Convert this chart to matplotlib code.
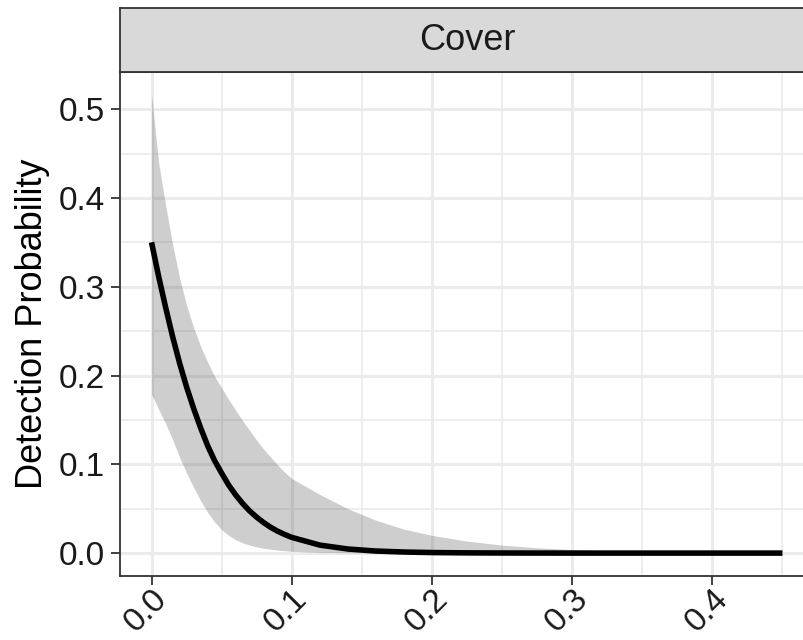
import matplotlib
matplotlib.use("Agg")
import matplotlib.pyplot as plt

plt.rcParams['font.family'] = ['Liberation Sans', 'DejaVu Sans']

# predicted detection probability vs cover, with confidence band
cover = [0.000, 0.005, 0.010, 0.015, 0.020, 0.025, 0.030, 0.035, 0.040, 0.045,
         0.050, 0.055, 0.060, 0.065, 0.070, 0.075, 0.080, 0.085, 0.090, 0.095,
         0.100, 0.120, 0.140, 0.160, 0.180, 0.200, 0.225, 0.250, 0.275, 0.300,
         0.325, 0.350, 0.400, 0.450]
p_mean = [0.350, 0.312, 0.277, 0.244, 0.214, 0.187, 0.163, 0.141, 0.121, 0.104,
          0.090, 0.0766, 0.0655, 0.0558, 0.0474, 0.0404, 0.0343, 0.0290, 0.0246, 0.0209,
          0.0177, 0.0090, 0.0046, 0.0023, 0.0012, 0.0006, 0.00025, 0.0001, 0.00005, 0.0,
          0.0, 0.0, 0.0, 0.0]
p_upper = [0.517, 0.440, 0.392, 0.348, 0.310, 0.279, 0.254, 0.233, 0.215, 0.199,
           0.186, 0.173, 0.161, 0.149, 0.138, 0.127, 0.117, 0.108, 0.099, 0.091,
           0.084, 0.066, 0.050, 0.037, 0.027, 0.020, 0.0135, 0.009, 0.006, 0.004,
           0.0025, 0.0016, 0.0006, 0.0002]
p_lower = [0.179, 0.162, 0.146, 0.128, 0.108, 0.090, 0.074, 0.059, 0.046, 0.035,
           0.0265, 0.020, 0.015, 0.0115, 0.009, 0.007, 0.0055, 0.0043, 0.0034, 0.0026,
           0.002, 0.0008, 0.0003, 0.0001, 0.0, 0.0, 0.0, 0.0, 0.0, 0.0,
           0.0, 0.0, 0.0, 0.0]
x_ticks = [0.0, 0.1, 0.2, 0.3, 0.4]
y_ticks = [0.0, 0.1, 0.2, 0.3, 0.4, 0.5]
facet = "Cover"

W, H = 804, 640
fig = plt.figure(figsize=(W / 100, H / 100), dpi=100)

# panel (right edge runs past the figure edge)
left, right, bottom, top = 120 / W, 814 / W, 64 / H, 568 / H
ax = fig.add_axes([left, bottom, right - left, top - bottom])
ax.set_xlim(-0.0225, 0.4725)
ax.set_ylim(-0.0258, 0.5418)

ax.set_xticks(x_ticks)
ax.set_yticks(y_ticks)
ax.set_xticks([0.05, 0.15, 0.25, 0.35, 0.45], minor=True)
ax.set_yticks([0.05, 0.15, 0.25, 0.35, 0.45], minor=True)
ax.grid(which='major', color='#EBEBEB', linewidth=2.2, zorder=0)
ax.grid(which='minor', color='#EBEBEB', linewidth=1.2, zorder=0)
ax.set_axisbelow(True)

ax.fill_between(cover, p_lower, p_upper, color='#333333', alpha=0.24,
                linewidth=0, zorder=2)
ax.plot(cover, p_mean, color='black', linewidth=4.0, solid_capstyle='butt', zorder=3)

for s in ax.spines.values():
    s.set_color('#333333')
    s.set_linewidth(1.3)

ax.tick_params(which='major', length=6.5, width=1.3, color='#333333',
               labelcolor='#1a1a1a')
ax.tick_params(axis='y', which='major', labelsize=24, pad=4.5)
ax.tick_params(axis='x', which='major', labelsize=24, pad=-1)
ax.tick_params(which='minor', length=0)
ax.set_xticklabels([f"{v:.1f}" for v in x_ticks], rotation=45,
                   ha='right', va='top', rotation_mode='anchor')
ax.set_yticklabels([f"{v:.1f}" for v in y_ticks])
ax.set_ylabel("Detection Probability", fontsize=26, color='black', labelpad=6)

# facet strip
strip = fig.add_axes([left, top, right - left, (632 - 568) / H])
strip.set_facecolor('#D9D9D9')
strip.set_xticks([])
strip.set_yticks([])
for s in strip.spines.values():
    s.set_color('#333333')
    s.set_linewidth(1.3)
strip.text(0.5, 0.5, facet, transform=strip.transAxes, ha='center', va='center',
           fontsize=26, color='#1a1a1a')

fig.savefig("out.png", dpi=100)
